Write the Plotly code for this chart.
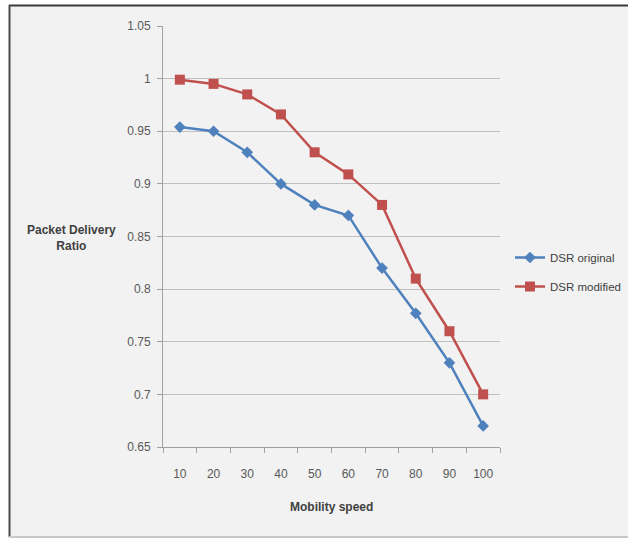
import plotly.graph_objects as go

speeds = ["10", "20", "30", "40", "50", "60", "70", "80", "90", "100"]
dsr_original = [0.954, 0.95, 0.93, 0.90, 0.88, 0.87, 0.82, 0.777, 0.73, 0.67]
dsr_modified = [0.999, 0.995, 0.985, 0.966, 0.93, 0.909, 0.88, 0.81, 0.76, 0.70]
y_ticks = [0.65, 0.7, 0.75, 0.8, 0.85, 0.9, 0.95, 1.0, 1.05]
y_tick_text = ["0.65", "0.7", "0.75", "0.8", "0.85", "0.9", "0.95", "1", "1.05"]

FONT = "Liberation Sans Narrow, Arial Narrow, Liberation Sans, Arial, sans-serif"
L, R, T, B = 163, 128, 26, 91
W, H = 628, 538
pw, ph = W - L - R, H - T - B

def px(x):
    return (x - L) / pw

def py(y):
    return (H - B - y) / ph

fig = go.Figure()
fig.add_trace(go.Scatter(
    x=speeds, y=dsr_original, mode="lines+markers", name="DSR original",
    legendgroup="a",
    line=dict(color="#4f81bd", width=2.5),
    marker=dict(symbol="diamond", size=9, color="#4f81bd"),
))
fig.add_trace(go.Scatter(
    x=speeds, y=dsr_modified, mode="lines+markers", name="DSR modified",
    legendgroup="b",
    line=dict(color="#c0504d", width=2.5),
    marker=dict(symbol="square", size=10, color="#c0504d"),
))

shapes = [
    dict(type="rect", xref="paper", yref="paper", x0=px(10), x1=px(W + 5), y0=py(537), y1=py(5),
         fillcolor="#f2f2f2", line=dict(width=0), layer="below"),
    dict(type="line", xref="paper", yref="paper", x0=px(9), x1=px(W + 5), y0=py(5.5), y1=py(5.5),
         line=dict(color="#3a3a3a", width=2), layer="above"),
    dict(type="line", xref="paper", yref="paper", x0=px(9.5), x1=px(9.5), y0=py(537), y1=py(5),
         line=dict(color="#4a4a4a", width=2), layer="above"),
    dict(type="line", xref="paper", yref="paper", x0=px(9), x1=px(W + 5), y0=py(537), y1=py(537),
         line=dict(color="#c8c8c8", width=2), layer="above"),
]

fig.update_layout(
    width=W, height=H,
    margin=dict(l=L, r=R, t=T, b=B, autoexpand=False),
    paper_bgcolor="white",
    plot_bgcolor="rgba(0,0,0,0)",
    font=dict(family=FONT, size=12, color="#595959"),
    shapes=shapes,
    showlegend=True,
    legend=dict(x=px(510), y=py(272), xanchor="left", yanchor="middle",
                bgcolor="rgba(0,0,0,0)", font=dict(family=FONT, size=11.5, color="#404040"),
                tracegroupgap=10, itemwidth=30),
    xaxis=dict(
        type="category", tickson="boundaries", ticks="outside", ticklen=5,
        tickcolor="#a0a0a0", showline=True, linecolor="#a0a0a0", linewidth=1,
        showgrid=False, zeroline=False, range=[-0.5, 9.5],
        tickfont=dict(family=FONT, size=12, color="#595959"),
        ticklabelstandoff=16,
        automargin=False,
    ),
    yaxis=dict(
        range=[0.65, 1.05], tickvals=y_ticks, ticktext=y_tick_text,
        ticks="outside", ticklen=5, tickcolor="#a0a0a0",
        showline=True, linecolor="#a0a0a0", linewidth=1,
        showgrid=True, gridcolor="#c0c0c0", gridwidth=1, zeroline=False,
        tickfont=dict(family=FONT, size=12, color="#595959"),
        ticklabelstandoff=4,
        automargin=False,
    ),
    annotations=[
        dict(text="<b>Packet Delivery<br>Ratio</b>", xref="paper", yref="paper",
             x=px(71), y=py(238), xanchor="center", yanchor="middle",
             showarrow=False, align="center",
             font=dict(family=FONT, size=12, color="#404040")),
        dict(text="<b>Mobility speed</b>", xref="paper", yref="paper",
             x=px(331), y=py(507), xanchor="center", yanchor="middle", showarrow=False,
             font=dict(family=FONT, size=12, color="#404040")),
    ],
)

fig.write_html("out.html", config={"displayModeBar": False},
               post_script="document.body.style.margin='0px';document.body.style.overflow='hidden';")
